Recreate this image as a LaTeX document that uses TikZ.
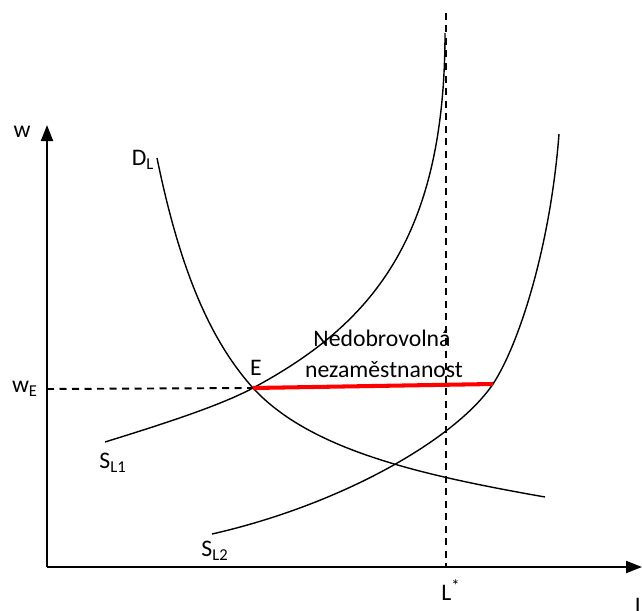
\documentclass[tikz,border=0pt]{standalone}
\usepackage{fontspec}
\setmainfont{Carlito}
\usepackage{tikz}
\usetikzlibrary{arrows.meta, positioning}
\tikzset{
	osa/.style={line width=1.1pt, -{Triangle[length=3.2mm, width=2.4mm]}},
	krivka/.style={line width=0.8pt},
	carkovane/.style={line width=1.1pt, dash pattern=on 1.4mm off 1.1mm},
	popis/.style={font=\fontsize{13.5}{16}\selectfont, inner sep=0pt},
	mezera/.style={line width=2.3pt, red},
}

\begin{document}
\begin{tikzpicture}[x=0.2mm, y=-0.2mm]
				\useasboundingbox (0,0) rectangle (642,610);
				% Paths, nodes and wires:
				\coordinate (O) at (47,567);
				\coordinate (W) at (47,125);
				\coordinate (L) at (642,567);
				\coordinate (E) at (253,388);
				\coordinate (R) at (493,384);
				\coordinate (Ltop) at (446,13);
				\coordinate (Lbot) at (446,567);
				\coordinate (WE) at (47,389);
				\draw[osa] (O) -- (W);
				\draw[osa] (O) -- (L);
				\draw[carkovane] (Ltop) -- (Lbot);
				\draw[carkovane] (WE) -- (E);
				\draw[krivka] (157,158) .. controls (180,270) and (210,340) .. (E) .. controls (310,450) and (420,475) .. (545,497);
				\draw[krivka] (105,442) .. controls (150,428) and (218,407) .. (E) .. controls (370,325) and (445,240) .. (445,33);
				\draw[krivka] (212,534) .. controls (340,505) and (455,440) .. (R) .. controls (518,346) and (550,250) .. (559,134);
				\draw[mezera] (E) -- (R);
				\node[popis](N1) at (22,132){w};
				\node[popis](N2) at (25,389){w\textsubscript{E}};
				\node[popis](N3) at (143,160){D\textsubscript{L}};
				\node[popis](N4) at (113,463){S\textsubscript{L1}};
				\node[popis](N5) at (215,551){S\textsubscript{L2}};
				\node[popis](N6) at (256,368){E};
				\node[popis](N7) at (451,590){L\textsuperscript{*}};
				\node[popis](N8) at (640,606){L};
				\node[popis](N9) at (382,338){Nedobrovolná};
				\node[popis](N10) at (384,370){nezaměstnanost};
			\end{tikzpicture}
\end{document}
